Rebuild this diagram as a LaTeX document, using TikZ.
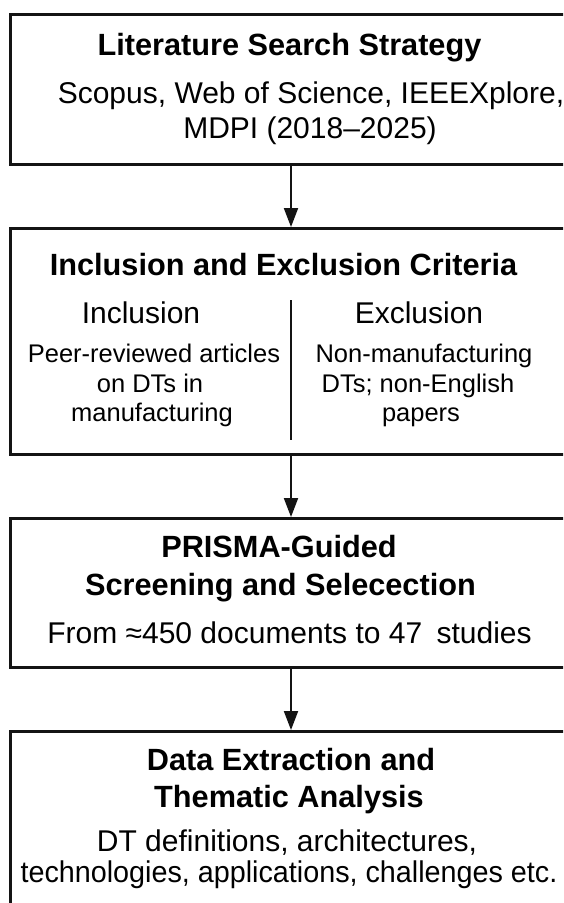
\documentclass[tikz,border=0pt]{standalone}
\usepackage{fontspec}
\setmainfont{Liberation Sans}
\usetikzlibrary{arrows.meta}
\begin{document}
\begin{tikzpicture}[x=1pt,y=-1pt,
  box/.style={draw=black!92, line width=2.5pt, minimum width=591pt, inner sep=0pt, anchor=north west},
  ttl/.style={font=\fontsize{30.7}{36}\selectfont\bfseries, anchor=base, inner sep=0pt},
  txt/.style={font=\fontsize{30}{36}\selectfont, anchor=base, inner sep=0pt},
  sml/.style={font=\fontsize{25.5}{31}\selectfont, anchor=base, inner sep=0pt},
  arr/.style={draw=black!92, line width=2pt, -{Triangle[length=19pt,width=14pt]}},
  divline/.style={draw=black!92, line width=2pt}]
\useasboundingbox (0,0) rectangle (563,903);
\clip (0,0) rectangle (563,903);
\fill[white] (0,0) rectangle (563,903);
% boxes
\node[box, minimum height=150pt] (b1) at (9,13) {};
\node[box, minimum height=226pt] (b2) at (9,227) {};
\node[box, minimum height=149pt] (b3) at (9,517) {};
\node[box, minimum height=220pt] (b4) at (9,730) {};
% arrow column
\coordinate (ax) at (291,0);
\draw[arr] (b1.south -| ax) -- (b2.north -| ax);
\draw[arr] (b2.south -| ax) -- (b3.north -| ax);
\draw[arr] (b3.south -| ax) -- (b4.north -| ax);
% box 1
\node[ttl] (t1) at (289.5,55) {Literature Search Strategy};
\node[txt] (s1a) at (311,103) {Scopus, Web of Science, IEEEXplore,};
\node[txt] (s1b) at (310,138) {MDPI (2018–2025)};
% box 2
\node[ttl] (t2) at (283.5,275) {Inclusion and Exclusion Criteria};
\node[txt] (inc) at (141,323) {Inclusion};
\node[txt] (exc) at (419,323) {Exclusion};
\node[sml] (inc1) at (154,362) {Peer-reviewed articles};
\node[sml] (inc2) at (150,392) {on DTs in};
\node[sml] (inc3) at (152,421) {manufacturing};
\node[sml] (exc1) at (424,362) {Non-manufacturing};
\node[sml] (exc2) at (418,392) {DTs; non-English};
\node[sml] (exc3) at (421,421) {papers};
\coordinate (dv1) at (291,300);
\coordinate (dv2) at (291,440);
\draw[divline] (dv1) -- (dv2);
% box 3
\node[ttl] (t3a) at (279,557) {PRISMA-Guided};
\node[ttl] (t3b) at (280.5,595) {Screening and Selecection};
\node[txt] (s3) at (289.5,643) {From ≈450 documents to 47\hspace{6pt} studies};
% box 4
\node[ttl] (t4a) at (291,770) {Data Extraction and};
\node[ttl] (t4b) at (289,807) {Thematic Analysis};
\node[txt] (s4a) at (287,851) {DT definitions, architectures,};
\node[txt] (s4b) at (289,882) {\scalebox{0.958}[1]{technologies, applications, challenges etc.}};
\end{tikzpicture}
\end{document}
